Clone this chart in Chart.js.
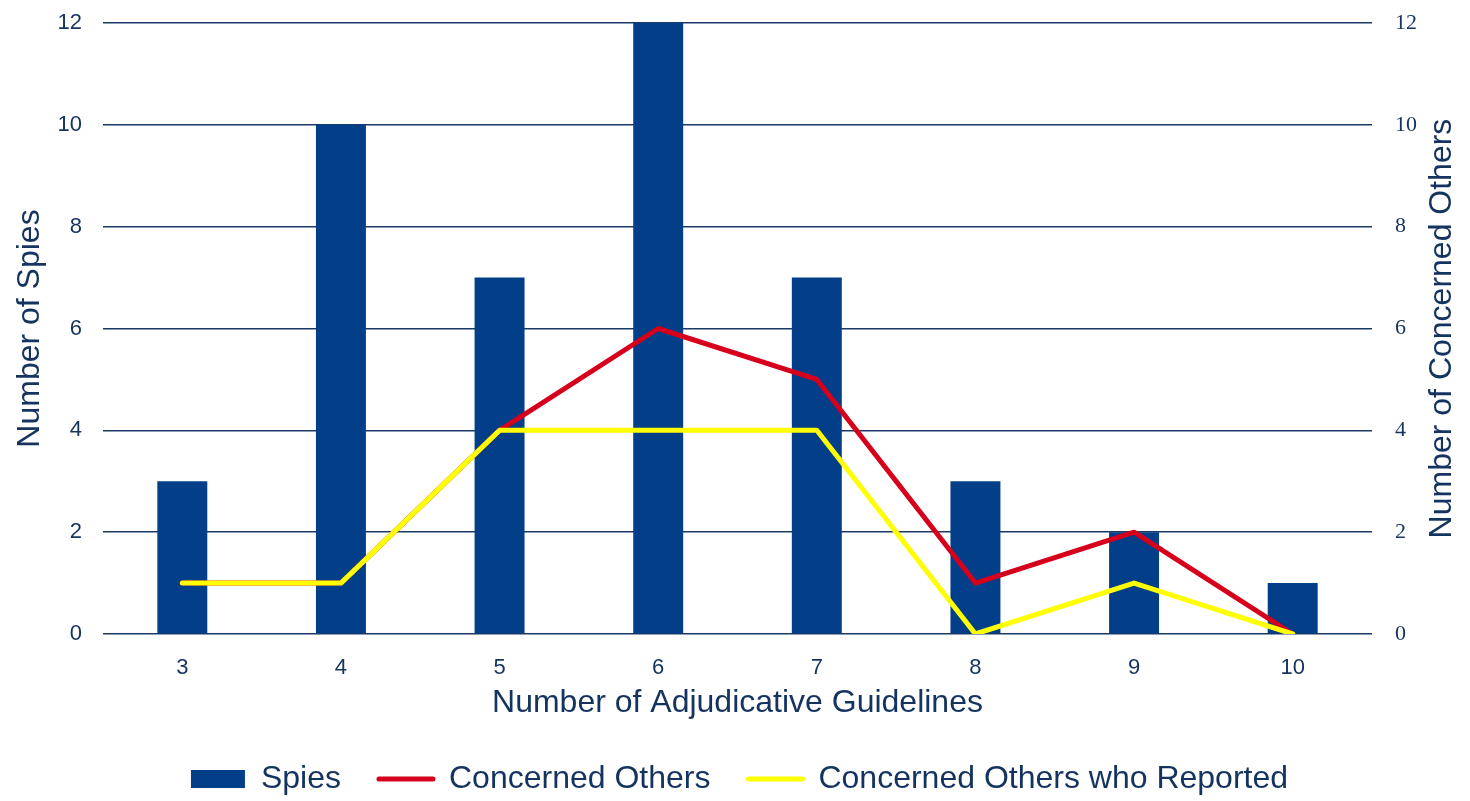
<!DOCTYPE html>
<html>
<head>
<meta charset="utf-8">
<script src="https://cdn.jsdelivr.net/npm/chart.js@4/dist/chart.umd.min.js"></script>
<style>
  html, body { margin: 0; padding: 0; background: #ffffff; }
  #wrap { width: 1470px; height: 801px; position: relative; }
</style>
</head>
<body>
<div id="wrap"><canvas id="chart" width="1470" height="801"></canvas></div>
<script>
// Number of adjudicative guidelines (x categories)
const guidelines = ['3', '4', '5', '6', '7', '8', '9', '10'];
// Spies per guideline count (left axis)
const spies = [3, 10, 7, 12, 7, 3, 2, 1];
// Concerned others per guideline count (right axis)
const concernedOthers = [1, 1, 4, 6, 5, 1, 2, 0];
// Concerned others who reported (right axis)
const concernedReported = [1, 1, 4, 4, 4, 0, 1, 0];
// Tick values shared by both y axes
const yTicks = [0, 2, 4, 6, 8, 10, 12];
// Title of the right-hand axis
const rightAxisTitle = 'Number of Concerned Others';

const NAVY_TEXT = '#14335f';
const GRID = '#1a3a66';
const BAR = '#023f88';
const RED = '#d6001c';
const YELLOW = '#ffff00';
const SANS = "'Liberation Sans', Arial, sans-serif";
const SERIF = "'Liberation Serif', 'Times New Roman', serif";

Chart.defaults.font.family = SANS;
Chart.defaults.color = NAVY_TEXT;

// Right axis title, written bottom-to-top like the left one
const rightTitlePlugin = {
  id: 'rightTitle',
  afterDraw(chart) {
    const scale = chart.scales.y1;
    const area = chart.chartArea;
    const ctx = chart.ctx;
    ctx.save();
    ctx.translate(scale.left + 70, (area.top + area.bottom) / 2);
    ctx.rotate(-Math.PI / 2);
    ctx.font = '32px ' + SANS;
    ctx.fillStyle = NAVY_TEXT;
    ctx.textAlign = 'center';
    ctx.textBaseline = 'middle';
    ctx.fillText(rightAxisTitle, 0, 0);
    ctx.restore();
  }
};

// Fixed width for a vertical axis; end labels may overhang the plot area
function fixedWidth(w) {
  return function (scale) {
    scale.width = w;
    scale.paddingTop = 0;
    scale.paddingBottom = 0;
  };
}

new Chart(document.getElementById('chart'), {
  plugins: [rightTitlePlugin],
  data: {
    labels: guidelines,
    datasets: [
      {
        type: 'bar',
        label: 'Spies',
        data: spies,
        backgroundColor: BAR,
        borderWidth: 0,
        barPercentage: 0.63,
        categoryPercentage: 0.5,
        yAxisID: 'y',
        order: 3
      },
      {
        type: 'line',
        label: 'Concerned Others',
        data: concernedOthers,
        borderColor: RED,
        backgroundColor: RED,
        borderWidth: 5,
        pointRadius: 0,
        tension: 0,
        borderJoinStyle: 'round',
        borderCapStyle: 'round',
        yAxisID: 'y1',
        order: 2
      },
      {
        type: 'line',
        label: 'Concerned Others who Reported',
        data: concernedReported,
        borderColor: YELLOW,
        backgroundColor: YELLOW,
        borderWidth: 5,
        pointRadius: 0,
        tension: 0,
        borderJoinStyle: 'round',
        borderCapStyle: 'round',
        yAxisID: 'y1',
        order: 1
      }
    ]
  },
  options: {
    responsive: false,
    animation: false,
    layout: { padding: { left: 9, right: 0, top: 23, bottom: -4 } },
    plugins: {
      tooltip: { enabled: false },
      legend: {
        position: 'bottom',
        labels: {
          color: NAVY_TEXT,
          font: { size: 32, family: SANS },
          usePointStyle: true,
          pointStyleWidth: 54,
          boxHeight: 18,
          padding: 38,
          generateLabels(chart) {
            return chart.data.datasets.map((ds, i) => ({
              text: ds.label,
              datasetIndex: i,
              fillStyle: ds.type === 'bar' ? BAR : ds.borderColor,
              strokeStyle: ds.type === 'bar' ? BAR : ds.borderColor,
              lineWidth: ds.type === 'bar' ? 0 : 5,
              lineCap: 'round',
              pointStyle: ds.type === 'bar' ? 'rect' : 'line',
              fontColor: NAVY_TEXT,
              hidden: false
            }));
          }
        }
      }
    },
    scales: {
      x: {
        afterFit(scale) { scale.height = 91; },
        grid: { display: false, drawTicks: false },
        border: { display: false },
        ticks: { color: NAVY_TEXT, font: { size: 22 }, padding: 21 },
        title: {
          display: true,
          text: 'Number of Adjudicative Guidelines',
          color: NAVY_TEXT,
          font: { size: 32 },
          padding: { top: 3, bottom: 3 }
        }
      },
      y: {
        position: 'left',
        min: 0,
        max: 12,
        afterFit: fixedWidth(94),
        afterBuildTicks(axis) { axis.ticks = yTicks.map(v => ({ value: v })); },
        grid: { color: GRID, lineWidth: 1.5, drawTicks: false },
        border: { display: false },
        ticks: { color: NAVY_TEXT, font: { size: 22 }, padding: 21 },
        title: {
          display: true,
          text: 'Number of Spies',
          color: NAVY_TEXT,
          font: { size: 32 },
          padding: { top: 2, bottom: 2 }
        }
      },
      y1: {
        position: 'right',
        min: 0,
        max: 12,
        afterFit: fixedWidth(98),
        afterBuildTicks(axis) { axis.ticks = yTicks.map(v => ({ value: v })); },
        grid: { drawOnChartArea: false, drawTicks: false },
        border: { display: false },
        ticks: { color: NAVY_TEXT, font: { size: 22, family: SERIF }, padding: 23 }
      }
    }
  }
});
</script>
</body>
</html>
